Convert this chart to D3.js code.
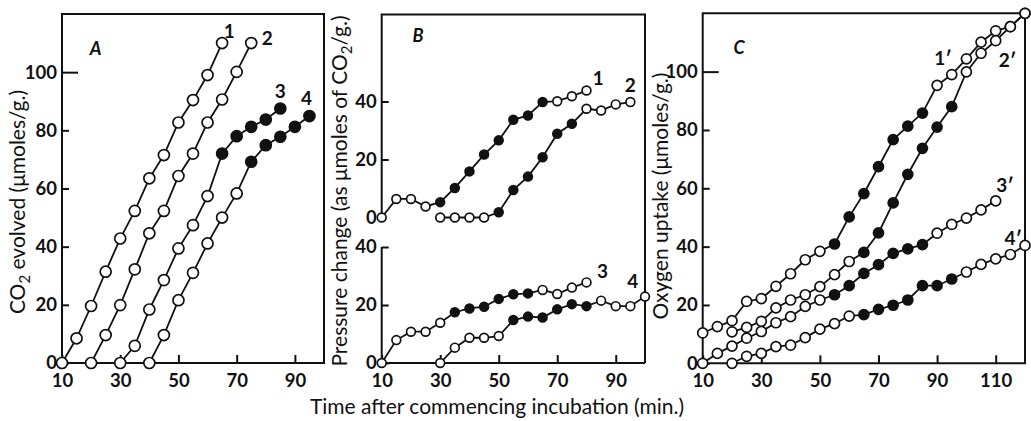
<!DOCTYPE html>
<html>
<head>
<meta charset="utf-8">
<script src="https://cdn.jsdelivr.net/npm/d3@7"></script>
<style>
body { margin: 0; background: #fff; }
svg text { font-family: Lato, "Open Sans", sans-serif; fill: #111; }
</style>
</head>
<body>
<svg id="fig" width="1031" height="421"></svg>
<script>
// ---- Panel A: CO2 evolved (umoles/g.) ----
const a1Time = [10, 15, 20, 25, 30, 35, 40, 45, 50, 55, 60, 65];
const a1Co2 = [0, 8.5, 19.6, 31.4, 42.8, 52.3, 63.5, 71.5, 82.7, 90.4, 99, 110];
const a2Time = [20, 25, 30, 35, 40, 45, 50, 55, 60, 65, 70, 75];
const a2Co2 = [0, 9.6, 19.9, 32.2, 44.6, 52.3, 64.3, 72, 82.7, 90.6, 100.1, 110];
const a3Time = [30, 35, 40, 45, 50, 55, 60, 65, 70, 75, 80, 85];
const a3Co2 = [0, 5.9, 18.4, 28.5, 39.4, 47.4, 57.4, 72, 78, 81.2, 83.7, 87.5];
const a3Filled = [65, 70, 75, 80, 85];
const a4Time = [40, 45, 50, 55, 60, 65, 70, 75, 80, 85, 90, 95];
const a4Co2 = [0, 9.6, 21.6, 31, 41.1, 50, 58.3, 69.2, 74.9, 77.8, 81.2, 84.9];
const a4Filled = [75, 80, 85, 90, 95];

// ---- Panel B: pressure change (as umoles of CO2/g.) ----
const b1Time = [10, 15, 20, 25, 30, 35, 40, 45, 50, 55, 60, 65, 70, 75, 80];
const b1Press = [0, 6.4, 6.4, 3.8, 5.3, 10.2, 15.9, 21.7, 26.6, 33.7, 35.2, 39.8, 40.1, 41.8, 43.8];
const b1Filled = [30, 35, 40, 45, 50, 55, 60, 65];
const b2Time = [30, 35, 40, 45, 50, 55, 60, 65, 70, 75, 80, 85, 90, 95];
const b2Press = [0, 0, 0, 0, 1.8, 9.5, 14.1, 20.8, 28.9, 32.3, 37.5, 36.9, 39, 39.8];
const b2Filled = [50, 55, 60, 65, 70, 75];
const b3Time = [10, 15, 20, 25, 30, 35, 40, 45, 50, 55, 60, 65, 70, 75, 80];
const b3Press = [0, 7.9, 10.8, 10.8, 13.9, 17.5, 18.8, 19.4, 22.1, 23.7, 24, 25.2, 23.8, 26, 27.8];
const b3Filled = [35, 40, 45, 50, 55, 60];
const b4Time = [30, 35, 40, 45, 50, 55, 60, 65, 70, 75, 80, 85, 90, 95, 100];
const b4Press = [0, 5.3, 8.7, 8.7, 9.3, 14.8, 16, 15.7, 18.5, 20.3, 19.6, 21.5, 19.6, 19.6, 22.9];
const b4Filled = [55, 60, 65, 70, 75, 80];

// ---- Panel C: oxygen uptake (umoles/g.) ----
const c1Time = [10, 15, 20, 25, 30, 35, 40, 45, 50, 55, 60, 65, 70, 75, 80, 85, 90, 95, 100, 105, 110, 115, 120];
const c1O2 = [10.4, 12.6, 14.6, 21.2, 22.2, 26.4, 30.7, 35.5, 38.4, 40.9, 50.2, 58.2, 67.4, 76.7, 81.3, 85.8, 95.3, 99, 104.4, 110.1, 114, 115.4, 120];
const c1Filled = [55, 60, 65, 70, 75, 80, 85];
const c2Time = [20, 25, 30, 35, 40, 45, 50, 55, 60, 65, 70, 75, 80, 85, 90, 95, 100, 105, 110, 115, 120];
const c2O2 = [10.8, 12.3, 14.4, 19, 21.7, 23.5, 26.3, 30.4, 34.9, 38, 44.7, 55, 64.8, 73.7, 81, 88, 99.9, 106.3, 110.6, 115.4, 120];
const c2Filled = [65, 70, 75, 80, 85, 90, 95];
const c3Time = [10, 15, 20, 25, 30, 35, 40, 45, 50, 55, 60, 65, 70, 75, 80, 85, 90, 95, 100, 105, 110];
const c3O2 = [0, 3.4, 5.9, 8.6, 10.9, 13.9, 16, 19.5, 21.7, 23.5, 26.6, 30.8, 33.8, 37.7, 39.2, 40.7, 44.6, 47.6, 49.8, 52.6, 55.7];
const c3Filled = [55, 60, 65, 70, 75, 80, 85];
const c4Time = [20, 25, 30, 35, 40, 45, 50, 55, 60, 65, 70, 75, 80, 85, 90, 95, 100, 105, 110, 115, 120];
const c4O2 = [0, 2.4, 3.4, 5.7, 6.2, 8.8, 11.7, 13.6, 16.2, 16.7, 18.5, 19.9, 21.7, 26.6, 26.6, 28.9, 31.3, 33.9, 35.8, 37.3, 40.4];
const c4Filled = [65, 70, 75, 80, 85, 90, 95];

// curve labels, in data units of each panel
const labelsA = [["1", 67.5, 114], ["2", 80.5, 111.5], ["3", 85, 93.5], ["4", 94, 91]];
const labelsBTop = [["1", 84, 48], ["2", 95, 45.5]];
const labelsBLow = [["3", 85.5, 31.5], ["4", 95.8, 28]];
const labelsC = [["1\u2032", 92, 104.5], ["2\u2032", 114, 104], ["3\u2032", 113.2, 61], ["4\u2032", 116, 43]];

const svg = d3.select("#fig");

function series(time, value, filled) {
    return time.map((t, i) => ({ t: t, v: value[i], f: (filled || []).includes(t) }));
}

function drawSeries(g, x, y, list, r) {
    const line = d3.line().x(d => x(d.t)).y(d => y(d.v));
    list.forEach(s => {
        g.append("path").datum(s)
            .attr("d", line)
            .attr("fill", "none")
            .attr("stroke", "#111")
            .attr("stroke-width", 1.8);
    });
    list.forEach(s => {
        g.selectAll(null).data(s).enter().append("circle")
            .attr("cx", d => x(d.t))
            .attr("cy", d => y(d.v))
            .attr("r", r)
            .attr("fill", d => d.f ? "#111" : "#fff")
            .attr("stroke", "#111")
            .attr("stroke-width", 1.7);
    });
}

function drawLabels(g, x, y, labels) {
    g.selectAll(null).data(labels).enter().append("text")
        .attr("x", d => x(d[1]))
        .attr("y", d => y(d[2]))
        .attr("text-anchor", "middle")
        .attr("dy", "0.35em")
        .style("font-size", "19px")
        .style("font-weight", "bold")
        .text(d => d[0]);
}

function yAxis(g, xPos, y, ticks, longTick) {
    const ax = g.append("g").attr("transform", `translate(${xPos},0)`)
        .call(d3.axisLeft(y).tickValues(ticks).tickSizeInner(-7).tickSizeOuter(0).tickPadding(5));
    ax.select(".domain").remove();
    ax.selectAll(".tick line").attr("stroke", "#111").attr("stroke-width", 2)
        .attr("x2", d => d === longTick ? 16 : 7);
    ax.selectAll(".tick text").style("font-size", "18.5px").style("font-weight", "bold").attr("fill", "#111");
    return ax;
}

function xAxis(g, x, yPos, ticks) {
    const ax = g.append("g").attr("transform", `translate(0,${yPos})`)
        .call(d3.axisBottom(x).tickValues(ticks).tickSizeInner(-8).tickSizeOuter(0).tickPadding(11));
    ax.select(".domain").remove();
    ax.selectAll(".tick line").attr("stroke", "#111").attr("stroke-width", 2);
    ax.selectAll(".tick text").style("font-size", "18.5px").style("font-weight", "bold").attr("fill", "#111");
    return ax;
}

function panelLetter(g, x, y, txt) {
    g.append("text").attr("x", x).attr("y", y)
        .style("font-size", "18px").style("font-style", "italic").style("font-weight", "bold")
        .text(txt);
}

function frame(g, d) {
    g.append("path").attr("d", d).attr("fill", "none")
        .attr("stroke", "#111").attr("stroke-width", 2);
}

// parts: [text, isSubscript]
function yTitle(x, y, parts) {
    const t = svg.append("text")
        .attr("transform", `translate(${x},${y}) rotate(-90)`)
        .attr("text-anchor", "middle")
        .style("font-size", "21px");
    let wasSub = false;
    parts.forEach(p => {
        const ts = t.append("tspan").text(p[0]);
        if (p[1]) ts.style("font-size", "15px").attr("dy", 5);
        else if (wasSub) ts.attr("dy", -5);
        wasSub = !!p[1];
    });
}

// ---------- Panel A ----------
const xA = d3.scaleLinear().domain([10, 100]).range([62, 324]);
const yA = d3.scaleLinear().domain([0, 120]).range([363, 14]);
const gA = svg.append("g");
frame(gA, `M${xA(10)},${yA(0)}H${xA(100)}V${yA(120)}H${xA(10)}Z`);
yAxis(gA, xA(10), yA, [0, 20, 40, 60, 80, 100], 100);
xAxis(gA, xA, yA(0), [10, 30, 50, 70, 90]);
drawSeries(gA, xA, yA, [
    series(a1Time, a1Co2), series(a2Time, a2Co2),
    series(a3Time, a3Co2, a3Filled), series(a4Time, a4Co2, a4Filled)
], 5.5);
drawLabels(gA, xA, yA, labelsA);
panelLetter(gA, xA(19.5), yA(106), "A");

// ---------- Panel B ----------
const xB = d3.scaleLinear().domain([10, 100]).range([381.7, 645]);
const yBTop = d3.scaleLinear().domain([0, 70]).range([217.5, 14.5]);
const yBLow = d3.scaleLinear().domain([0, 40]).range([363, 247]);
const gB = svg.append("g");
frame(gB, `M${xB(10)},${yBTop(0)}V${yBTop(70)}H${xB(100)}V${yBLow(0)}`);
frame(gB, `M${xB(10)},${yBLow(40)}V${yBLow(0)}H${xB(100)}`);
const axBTop = yAxis(gB, xB(10), yBTop, [0, 20, 40], -1);
axBTop.selectAll(".tick line").filter(d => d === 0).remove();
yAxis(gB, xB(10), yBLow, [0, 20, 40], -1);
xAxis(gB, xB, yBLow(0), [10, 30, 50, 70, 90]);
drawSeries(gB, xB, yBTop, [
    series(b1Time, b1Press, b1Filled), series(b2Time, b2Press, b2Filled)
], 4.4);
drawSeries(gB, xB, yBLow, [
    series(b3Time, b3Press, b3Filled), series(b4Time, b4Press, b4Filled)
], 4.4);
drawLabels(gB, xB, yBTop, labelsBTop);
drawLabels(gB, xB, yBLow, labelsBLow);
panelLetter(gB, xB(20.5), yBTop(60.5), "B");

// ---------- Panel C ----------
const xC = d3.scaleLinear().domain([10, 120]).range([702.7, 1025]);
const yC = d3.scaleLinear().domain([0, 120]).range([363.3, 13.3]);
const gC = svg.append("g");
frame(gC, `M${xC(10)},${yC(0)}H${xC(120)}V${yC(120)}H${xC(10)}Z`);
yAxis(gC, xC(10), yC, [0, 20, 40, 60, 80, 100], 100);
xAxis(gC, xC, yC(0), [10, 30, 50, 70, 90, 110]);
drawSeries(gC, xC, yC, [
    series(c1Time, c1O2, c1Filled), series(c2Time, c2O2, c2Filled),
    series(c3Time, c3O2, c3Filled), series(c4Time, c4O2, c4Filled)
], 5);
drawLabels(gC, xC, yC, labelsC);
panelLetter(gC, xC(20.5), yC(106), "C");

// ---------- axis titles ----------
yTitle(25, 202, [["CO"], ["2", true], [" evolved (\u03bcmoles/g.)"]]);
yTitle(347, 191, [["Pressure change (as \u03bcmoles of CO"], ["2", true], ["/g.)"]]);
yTitle(668, 196, [["Oxygen uptake (\u03bcmoles/g.)"]]);

svg.append("text")
    .attr("x", 497).attr("y", 414)
    .attr("text-anchor", "middle")
    .style("font-size", "21px")
    .text("Time after commencing incubation (min.)");
</script>
</body>
</html>
